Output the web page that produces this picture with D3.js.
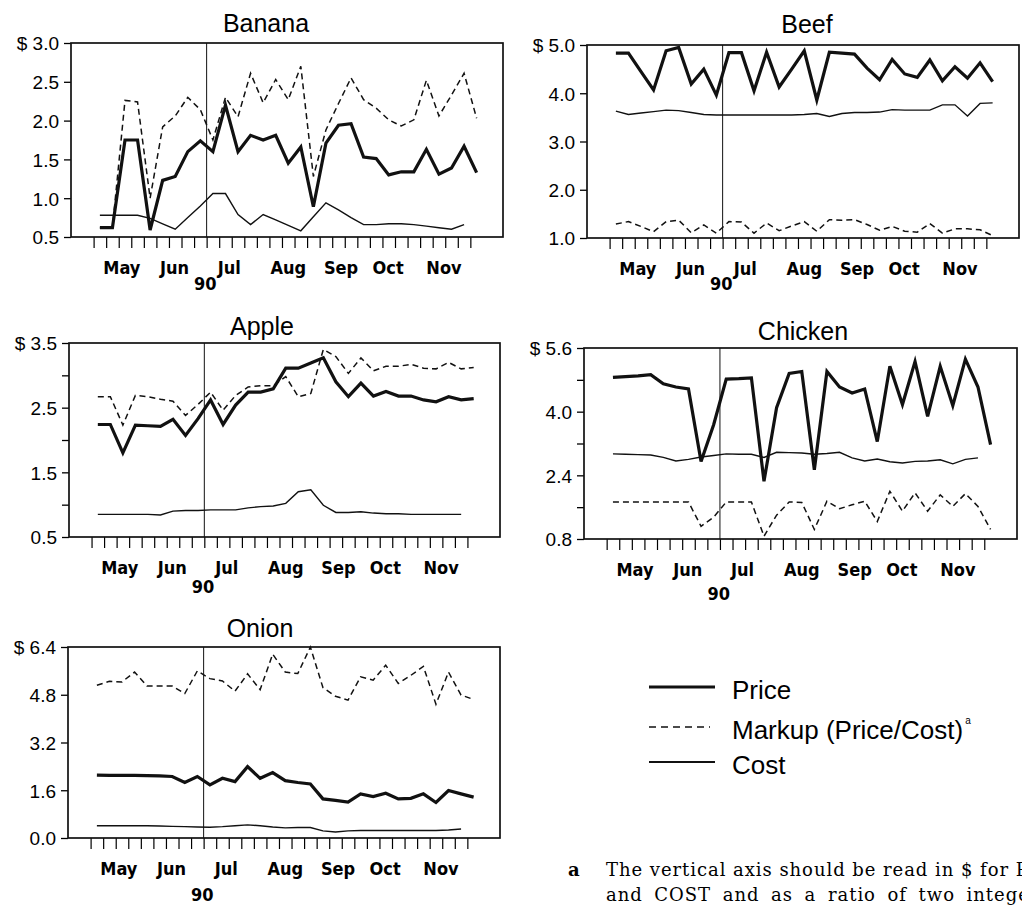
<!DOCTYPE html>
<html>
<head>
    <title>Price, Markup and Cost</title>
    <script src="https://d3js.org/d3.v7.min.js"></script>
    <style>
        body { margin: 0; background: #fff; }
        svg { display: block; font-family: "Liberation Sans", Arial, Helvetica, sans-serif; }
        .month { font-family: "Liberation Sans Narrow", "DejaVu Sans Condensed", sans-serif; font-stretch: condensed; font-size: 18px; font-weight: bold; }
        .ylab { font-size: 19px; }
        .title { font-size: 25px; }
        .foot { font-family: "DejaVu Serif", serif; font-size: 18px; }
    </style>
</head>
<body>
    <div id="chart"></div>
    <script>
        // weekly ticks, May to Nov 1990; points sit between ticks
        const weeks = d3.range(31);
        const months = ["May", "Jun", "Jul", "Aug", "Sep", "Oct", "Nov"];
        const monthWeek = [2.25, 6.45, 10.8, 15.5, 19.7, 23.45, 27.9];
        const yearWeek = 9; // the "90" divider

        const bananaPrice  = [0.62, 0.62, 1.75, 1.75, 0.59, 1.23, 1.28, 1.6, 1.74, 1.6, 2.2, 1.6, 1.81, 1.75, 1.81, 1.45, 1.66, 0.89, 1.71, 1.94, 1.96, 1.53, 1.51, 1.3, 1.34, 1.34, 1.63, 1.31, 1.39, 1.67, 1.33];
        const bananaMarkup = [0.62, 0.62, 2.26, 2.24, 1.0, 1.92, 2.06, 2.3, 2.14, 1.75, 2.3, 2.05, 2.61, 2.23, 2.53, 2.27, 2.7, 1.28, 1.88, 2.22, 2.55, 2.27, 2.16, 2.01, 1.93, 2.01, 2.52, 2.06, 2.33, 2.61, 2.03];
        const bananaCost   = [0.78, 0.78, 0.78, 0.78, 0.74, 0.67, 0.6, 0.75, 0.9, 1.06, 1.06, 0.79, 0.66, 0.79, 0.72, 0.65, 0.58, 0.76, 0.94, 0.85, 0.75, 0.66, 0.66, 0.67, 0.67, 0.66, 0.64, 0.62, 0.6, 0.66];

        const beefPrice  = [4.83, 4.83, 4.45, 4.07, 4.88, 4.95, 4.19, 4.5, 3.96, 4.84, 4.84, 4.05, 4.85, 4.13, 4.5, 4.88, 3.86, 4.85, 4.83, 4.81, 4.52, 4.28, 4.7, 4.4, 4.33, 4.69, 4.26, 4.55, 4.31, 4.63, 4.24];
        const beefMarkup = [1.29, 1.34, 1.24, 1.13, 1.34, 1.37, 1.11, 1.27, 1.1, 1.34, 1.33, 1.1, 1.31, 1.15, 1.25, 1.34, 1.14, 1.38, 1.37, 1.38, 1.28, 1.16, 1.24, 1.14, 1.12, 1.3, 1.1, 1.19, 1.19, 1.17, 1.05];
        const beefCost   = [3.63, 3.56, 3.59, 3.62, 3.65, 3.64, 3.6, 3.56, 3.55, 3.55, 3.55, 3.55, 3.55, 3.55, 3.55, 3.56, 3.58, 3.52, 3.58, 3.6, 3.6, 3.61, 3.66, 3.65, 3.65, 3.65, 3.76, 3.76, 3.53, 3.79, 3.8];

        const applePrice  = [2.24, 2.24, 1.8, 2.23, 2.22, 2.21, 2.32, 2.07, 2.33, 2.62, 2.24, 2.54, 2.74, 2.74, 2.79, 3.11, 3.11, 3.19, 3.27, 2.9, 2.67, 2.88, 2.68, 2.75, 2.68, 2.68, 2.62, 2.59, 2.67, 2.62, 2.64];
        const appleMarkup = [2.67, 2.67, 2.23, 2.69, 2.67, 2.63, 2.6, 2.38, 2.55, 2.74, 2.46, 2.69, 2.82, 2.84, 2.84, 2.98, 2.67, 2.72, 3.4, 3.29, 3.03, 3.27, 3.07, 3.14, 3.14, 3.17, 3.11, 3.1, 3.2, 3.1, 3.12];
        const appleCost   = [0.85, 0.85, 0.85, 0.85, 0.85, 0.84, 0.9, 0.91, 0.91, 0.92, 0.92, 0.92, 0.95, 0.97, 0.98, 1.02, 1.2, 1.23, 0.99, 0.88, 0.88, 0.89, 0.87, 0.86, 0.86, 0.85, 0.85, 0.85, 0.85, 0.85];

        const chickenPrice  = [4.86, 4.88, 4.9, 4.93, 4.7, 4.62, 4.57, 2.75, 3.67, 4.82, 4.83, 4.85, 2.25, 4.1, 4.96, 5.01, 2.54, 5.01, 4.62, 4.47, 4.57, 3.25, 5.14, 4.18, 5.26, 3.88, 5.14, 4.15, 5.32, 4.62, 3.17];
        const chickenMarkup = [1.73, 1.73, 1.73, 1.73, 1.73, 1.73, 1.73, 1.12, 1.35, 1.73, 1.73, 1.73, 0.87, 1.4, 1.73, 1.72, 1.04, 1.75, 1.56, 1.66, 1.75, 1.24, 2.0, 1.5, 1.96, 1.5, 1.91, 1.62, 1.94, 1.62, 1.04];
        const chickenCost   = [2.94, 2.93, 2.92, 2.91, 2.85, 2.76, 2.8, 2.86, 2.9, 2.94, 2.93, 2.93, 2.85, 2.98, 2.97, 2.96, 2.93, 2.95, 2.98, 2.84, 2.76, 2.81, 2.74, 2.71, 2.75, 2.76, 2.79, 2.69, 2.8, 2.84];

        const onionPrice  = [2.11, 2.1, 2.1, 2.1, 2.09, 2.08, 2.06, 1.86, 2.06, 1.78, 2.0, 1.89, 2.39, 2.0, 2.19, 1.92, 1.86, 1.81, 1.31, 1.26, 1.2, 1.48, 1.39, 1.5, 1.31, 1.33, 1.48, 1.19, 1.59, 1.48, 1.37];
        const onionMarkup = [5.12, 5.25, 5.23, 5.56, 5.09, 5.09, 5.09, 4.84, 5.6, 5.34, 5.26, 4.92, 5.5, 4.97, 6.16, 5.56, 5.51, 6.4, 5.04, 4.75, 4.62, 5.4, 5.29, 5.79, 5.18, 5.45, 5.75, 4.48, 5.56, 4.79, 4.64];
        const onionCost   = [0.41, 0.41, 0.41, 0.41, 0.41, 0.4, 0.39, 0.38, 0.37, 0.36, 0.38, 0.41, 0.44, 0.41, 0.37, 0.34, 0.35, 0.35, 0.24, 0.2, 0.24, 0.25, 0.25, 0.25, 0.25, 0.25, 0.25, 0.25, 0.27, 0.3];

        // y axes: labelled ticks and unlabelled ones
        const bananaTicks  = [3.0, 2.5, 2.0, 1.5, 1.0, 0.5];
        const beefTicks    = [5.0, 4.0, 3.0, 2.0, 1.0];
        const appleTicks   = [3.5, 2.5, 1.5, 0.5];
        const appleMinor   = [3.0, 2.0, 1.0];
        const chickenTicks = [5.6, 4.0, 2.4, 0.8];
        const chickenMinor = [4.8, 3.2, 1.6];
        const onionTicks   = [6.4, 4.8, 3.2, 1.6, 0.0];

        const legendNames = ["Price", "Markup (Price/Cost)", "Cost"];
        const footnote = ["The vertical axis should be read in $ for PRICE",
                          "and COST and as a ratio of two integers for MARKUP."];

        const panels = [
            {name: "Banana",  price: bananaPrice,  markup: bananaMarkup,  cost: bananaCost,  y: [0.5, 3.0], ticks: bananaTicks,  minor: [],
             box: [71, 503, 43, 237],  titleX: 266, titleY: 32,  yearDy: 53},
            {name: "Beef",    price: beefPrice,    markup: beefMarkup,    cost: beefCost,    y: [1.0, 5.0], ticks: beefTicks,    minor: [],
             box: [587, 1019, 45, 238], titleX: 807, titleY: 33, yearDy: 52},
            {name: "Apple",   price: applePrice,   markup: appleMarkup,   cost: appleCost,   y: [0.5, 3.5], ticks: appleTicks,   minor: appleMinor,
             box: [69, 500, 343, 537],  titleX: 262, titleY: 335, yearDy: 56},
            {name: "Chicken", price: chickenPrice, markup: chickenMarkup, cost: chickenCost, y: [0.8, 5.6], ticks: chickenTicks, minor: chickenMinor,
             box: [584, 1017, 348, 539], titleX: 803, titleY: 340, yearDy: 61},
            {name: "Onion",   price: onionPrice,   markup: onionMarkup,   cost: onionCost,   y: [0.0, 6.4], ticks: onionTicks,   minor: [],
             box: [68, 500, 647, 838],  titleX: 260, titleY: 637, yearDy: 63}
        ];

        const width = 1022, height = 906;
        const svg = d3.select("#chart").append("svg")
            .attr("width", width).attr("height", height);

        const fmt = d3.format(".1f");

        panels.forEach(function(p) {
            const [x0, x1, y0, y1] = p.box;
            const x = d3.scaleLinear().domain([-1.8, 32.6]).range([x0, x1]);
            const y = d3.scaleLinear().domain(p.y).range([y1, y0]);
            const g = svg.append("g").attr("class", "panel");

            // y axis
            const topVal = d3.max(p.ticks);
            g.append("g")
                .attr("transform", `translate(${x0},0)`)
                .call(d3.axisLeft(y).tickValues(p.ticks.concat(p.minor)).tickSize(7).tickPadding(5)
                    .tickFormat(d => p.ticks.includes(d) ? (d === topVal ? "$ " : "") + fmt(d) : ""))
                .call(a => a.select(".domain").remove())
                .call(a => a.selectAll("line").attr("stroke-width", 1.3))
                .call(a => a.selectAll("text").attr("class", "ylab").attr("font-size", null).attr("font-family", null).attr("dy", "0.36em"));

            // x axis: weekly ticks under the box
            g.append("g")
                .attr("transform", `translate(0,${y1})`)
                .call(d3.axisBottom(x).tickValues(weeks).tickSize(11).tickFormat(""))
                .call(a => a.select(".domain").remove())
                .call(a => a.selectAll("line").attr("stroke-width", 1.2));

            g.selectAll(".month")
                .data(months)
                .enter().append("text")
                .attr("class", "month")
                .attr("x", (d, i) => x(monthWeek[i]))
                .attr("y", y1 + 37)
                .attr("text-anchor", "middle")
                .text(d => d);

            g.append("text")
                .attr("class", "month")
                .attr("x", x(yearWeek - 0.1))
                .attr("y", y1 + p.yearDy)
                .attr("text-anchor", "middle")
                .text("90");

            // frame and year divider
            g.append("rect")
                .attr("x", x0).attr("y", y0)
                .attr("width", x1 - x0).attr("height", y1 - y0)
                .attr("fill", "none").attr("stroke", "#111").attr("stroke-width", 1.7);

            g.append("line")
                .attr("x1", x(yearWeek)).attr("x2", x(yearWeek))
                .attr("y1", y0).attr("y2", y1)
                .attr("stroke", "#111").attr("stroke-width", 1);

            const line = d3.line()
                .x((d, i) => x(i + 0.5))
                .y(d => y(d));

            g.append("path").datum(p.cost)
                .attr("d", line).attr("fill", "none")
                .attr("stroke", "#111").attr("stroke-width", 1.4);

            g.append("path").datum(p.markup)
                .attr("d", line).attr("fill", "none")
                .attr("stroke", "#111").attr("stroke-width", 1.5)
                .attr("stroke-dasharray", "6,4");

            g.append("path").datum(p.price)
                .attr("d", line).attr("fill", "none")
                .attr("stroke", "#111").attr("stroke-width", 3.2)
                .attr("stroke-linejoin", "miter");

            g.append("text")
                .attr("class", "title")
                .attr("x", p.titleX).attr("y", p.titleY)
                .attr("text-anchor", "middle")
                .text(p.name);
        });

        // legend
        const legend = svg.append("g").attr("transform", "translate(649,687)");
        const legendStyle = [
            {w: 3, dash: null},
            {w: 1.5, dash: "7,5"},
            {w: 1.8, dash: null}
        ];
        const rows = [0, 40, 75];
        legendNames.forEach(function(name, i) {
            legend.append("line")
                .attr("x1", 0).attr("x2", i === 1 ? 61 : 66)
                .attr("y1", rows[i]).attr("y2", rows[i])
                .attr("stroke", "#111").attr("stroke-width", legendStyle[i].w)
                .attr("stroke-dasharray", legendStyle[i].dash);
            const t = legend.append("text")
                .attr("x", 83).attr("y", rows[i] + 12)
                .attr("font-size", 26)
                .text(name);
            if (i === 1) {
                t.append("tspan").attr("font-size", 10).attr("dx", 2).attr("dy", -15).text("a");
            }
        });

        // footnote (runs past the right edge, as in the source page)
        svg.append("text").attr("class", "foot")
            .attr("x", 568).attr("y", 876).attr("font-weight", "bold").text("a");
        svg.selectAll(".footline")
            .data(footnote)
            .enter().append("text")
            .attr("class", "foot footline")
            .attr("x", 606)
            .attr("y", (d, i) => 876 + i * 25)
            .attr("letter-spacing", 0.95)
            .attr("word-spacing", (d, i) => i === 1 ? 5 : 0)
            .text(d => d);
    </script>
</body>
</html>
